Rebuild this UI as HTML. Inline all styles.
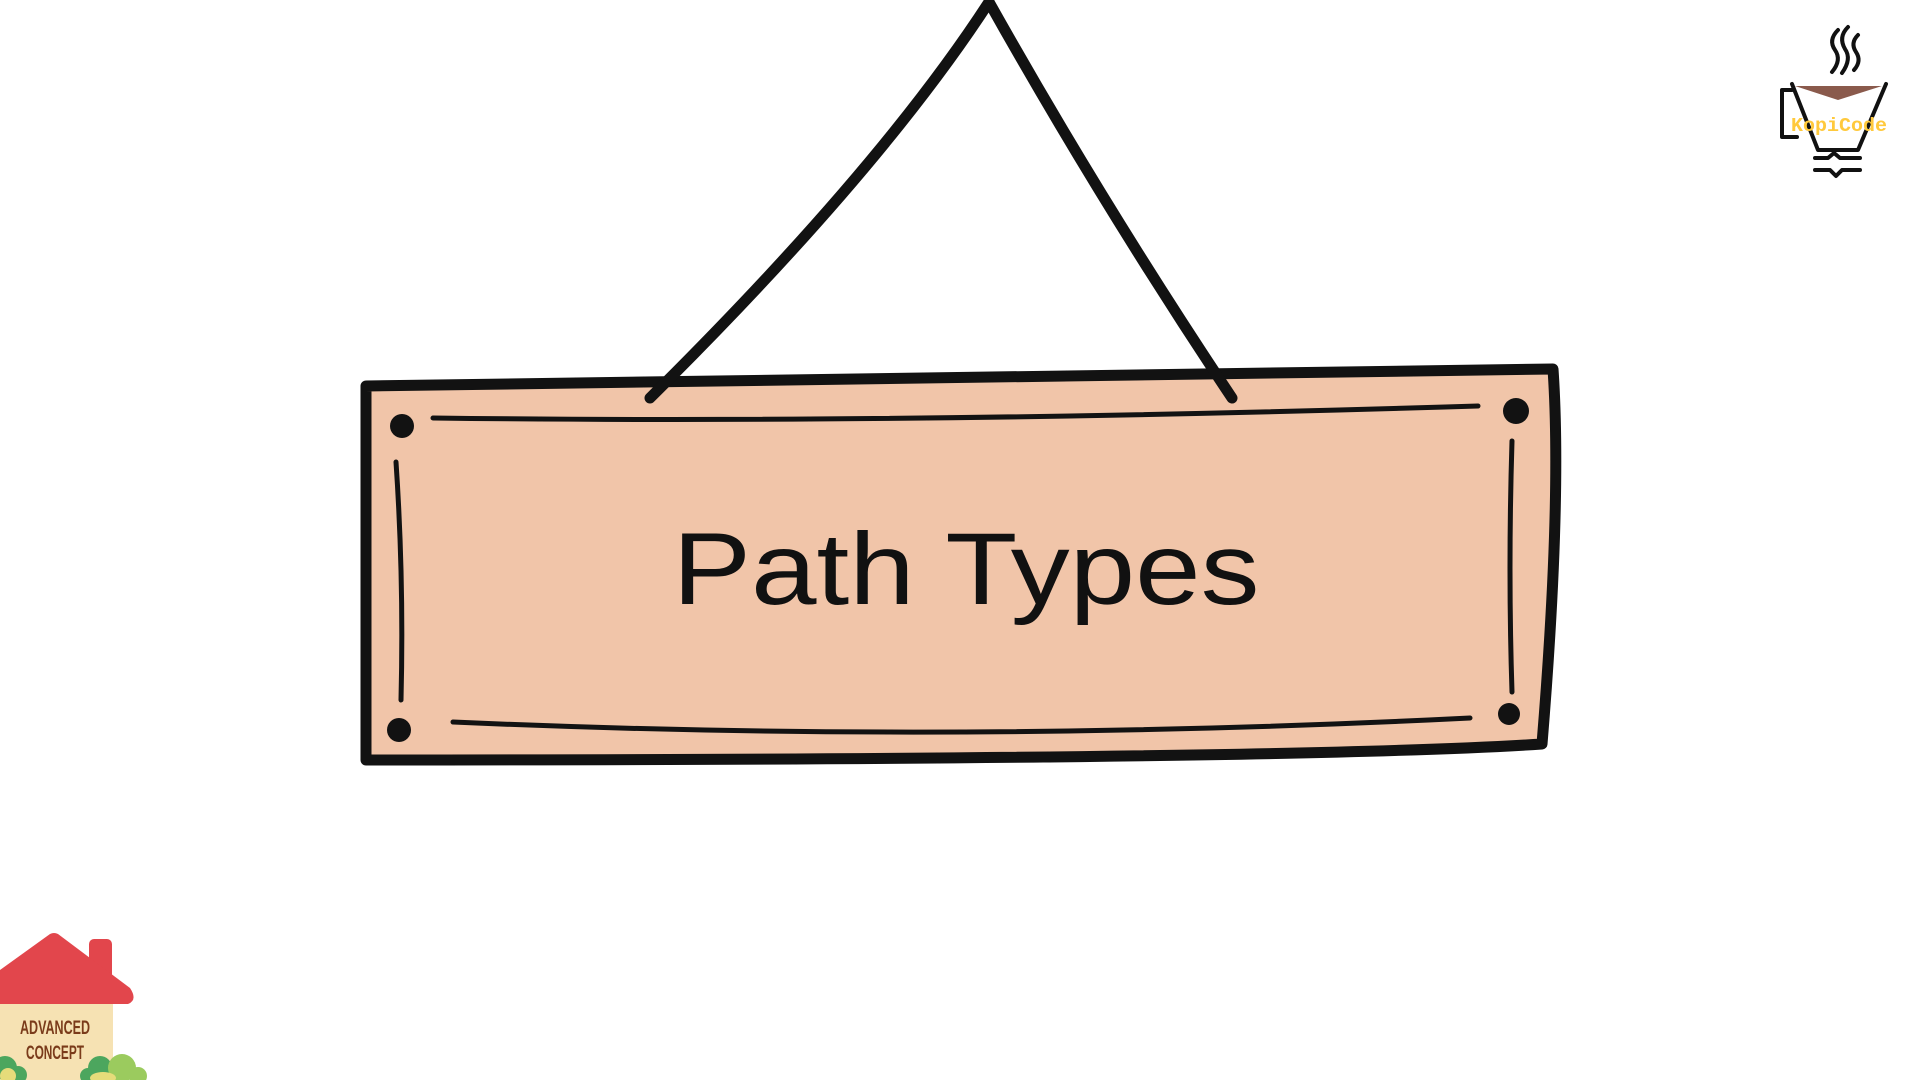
<!DOCTYPE html>
<html><head><meta charset="utf-8"><style>
html,body{margin:0;padding:0;background:#fff;width:1920px;height:1080px;overflow:hidden}
svg{position:absolute;left:0;top:0}
</style></head><body>
<svg width="1920" height="1080" viewBox="0 0 1920 1080">
<path d="M366 386 L1553 369 Q1562 500 1542 744 Q1300 760 366 760 Z" fill="#F1C5A9" stroke="#121212" stroke-width="11" stroke-linejoin="round"/>
<path d="M650 398 Q880 170 989 2" fill="none" stroke="#121212" stroke-width="11" stroke-linecap="round"/>
<path d="M989 2 Q1100 200 1232 398" fill="none" stroke="#121212" stroke-width="11" stroke-linecap="round"/>
<g fill="none" stroke="#121212" stroke-width="5" stroke-linecap="round">
<path d="M433 418 Q900 424 1478 406"/>
<path d="M453 722 Q950 744 1470 718"/>
<path d="M396 462 Q404 580 401 700"/>
<path d="M1512 441 Q1508 570 1512 692"/>
</g>
<g fill="#121212">
<circle cx="402" cy="426" r="12"/>
<circle cx="1516" cy="411" r="13"/>
<circle cx="399" cy="730" r="12"/>
<circle cx="1509" cy="714" r="11"/>
</g>
<text x="966" y="604" text-anchor="middle" font-family="'Liberation Sans',sans-serif" font-size="102" fill="#111" textLength="587" lengthAdjust="spacingAndGlyphs">Path Types</text>
<g fill="none" stroke="#111" stroke-width="4" stroke-linecap="round" stroke-linejoin="round">
<path d="M1838 30 q-10 10 -3 20 q7 10 -3 22"/>
<path d="M1848 27 q-10 10 -3 22 q7 10 -3 24"/>
<path d="M1858 35 q-8 8 -2 17 q6 9 -2 18"/>
<path d="M1792 90 L1782 90 L1782 137 L1797 137"/>
<path d="M1792 84 L1818 150 L1858 150 L1886 84"/>
<path d="M1815 158 L1828 158 L1834 153 L1840 158 L1860 158"/>
<path d="M1815 170 L1830 170 L1836 176 L1842 170 L1860 170"/>
</g>
<path d="M1795 86 L1838 100 L1882 86 Z" fill="#8a5a4c"/>
<text x="1839" y="131" text-anchor="middle" font-family="'Liberation Mono',monospace" font-weight="bold" font-size="19" fill="#FFC93C" textLength="96" lengthAdjust="spacingAndGlyphs">KopiCode</text>
<rect x="0" y="1000" width="113" height="80" fill="#F6E2B3"/>
<rect x="89" y="939" width="23" height="40" rx="5" fill="#E2464C"/>
<path d="M0 970 L50 934 Q54 932 58 934 L130 988 Q138 1000 128 1004 L0 1004 Z" fill="#E2464C"/>
<text x="55" y="1034" text-anchor="middle" font-family="'Liberation Sans',sans-serif" font-weight="bold" font-size="19" fill="#7a3b1a" textLength="70" lengthAdjust="spacingAndGlyphs">ADVANCED</text>
<text x="55" y="1059" text-anchor="middle" font-family="'Liberation Sans',sans-serif" font-weight="bold" font-size="19" fill="#7a3b1a" textLength="58" lengthAdjust="spacingAndGlyphs">CONCEPT</text>
<g>
<circle cx="5" cy="1068" r="12" fill="#4CA65E"/>
<circle cx="18" cy="1075" r="9" fill="#4CA65E"/>
<circle cx="8" cy="1076" r="8" fill="#E5DC7A"/>
<circle cx="100" cy="1068" r="12" fill="#4CA65E"/>
<circle cx="88" cy="1076" r="8" fill="#4CA65E"/>
<circle cx="122" cy="1068" r="14" fill="#9BCB5E"/>
<circle cx="138" cy="1076" r="9" fill="#9BCB5E"/>
<ellipse cx="103" cy="1078" rx="13" ry="6" fill="#E5DC7A"/>
</g>
</svg>
</body></html>
